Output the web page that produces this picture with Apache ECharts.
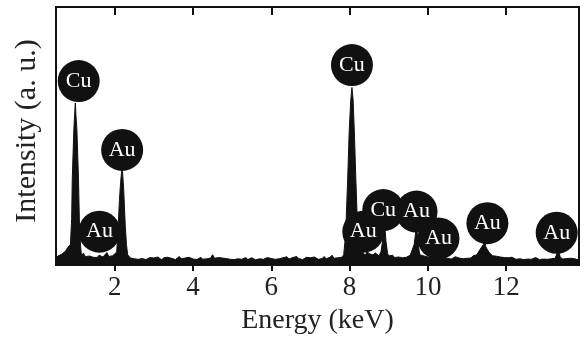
<!DOCTYPE html>
<html>
<head>
<meta charset="utf-8">
<script src="https://cdn.jsdelivr.net/npm/echarts@6/dist/echarts.min.js"></script>
<style>
html,body{margin:0;padding:0;background:#fff;}
#chart{width:584px;height:341px;}
</style>
</head>
<body>
<div id="chart"></div>
<script>
// x tick values / labels (keV)
const tickValues = [2, 4, 6, 8, 10, 12];
const tickLabels = ['2', '4', '6', '8', '10', '12'];

// Background (bremsstrahlung + noise) sampled every 0.05 keV starting at 0.50 keV
const baseStart = 0.5;
const baseStep = 0.05;
const baseCounts = [
  2.5,3.5,3.0,4.2,4.8,5.5,6.8,6.2,7.5,8.0,
  8.0,4.5,5.2,3.8,4.6,3.2,3.9,3.5,4.1,3.0,
  3.6,2.9,3.8,4.4,3.1,3.5,4.8,3.3,2.8,3.6,
  3.2,3.9,4.0,4.0,4.0,4.0,4.2,3.5,2.7,3.1,
  2.4,3.0,2.2,2.8,2.5,3.2,2.1,2.6,2.9,2.3,
  2.7,2.2,3.1,2.4,2.0,2.8,2.5,3.0,2.3,2.6,
  2.9,2.1,2.6,3.3,2.4,2.0,2.7,2.2,3.0,2.5,
  2.3,2.8,2.1,2.6,3.0,2.2,2.9,2.4,2.0,2.7,
  4.0,2.6,2.2,2.9,2.3,2.7,2.0,2.5,3.1,2.2,
  2.6,2.1,2.8,2.4,3.0,2.2,2.6,2.9,2.1,2.5,
  2.8,2.3,2.0,2.7,2.4,3.1,2.2,2.6,2.9,2.3,
  2.5,3.0,2.2,2.7,2.4,2.0,2.8,2.5,3.2,2.3,
  2.6,2.9,2.2,3.3,2.5,2.8,2.1,2.7,3.0,2.4,
  2.8,2.3,3.1,2.6,2.2,2.9,2.5,3.3,2.4,2.7,
  3.0,3.8,2.6,3.2,2.8,3.5,3.0,4.0,4.0,4.0,
  4.0,4.0,4.0,4.0,5.0,4.2,5.5,4.6,3.8,5.2,
  4.4,5.0,3.9,4.7,4.1,3.6,4.0,4.0,4.0,4.0,
  3.5,3.0,3.8,2.9,3.4,3.1,3.6,2.8,3.3,3.0,
  3.4,3.8,4.0,4.0,4.0,4.0,3.9,3.2,3.5,2.8,
  3.1,2.6,2.9,3.3,2.5,2.8,3.0,2.4,2.7,3.1,
  2.6,2.9,2.3,2.8,3.2,2.5,2.7,3.0,2.4,2.9,
  2.6,3.0,2.7,3.5,3.2,4.0,4.0,4.0,4.0,4.0,
  4.0,4.0,4.5,3.6,3.0,3.4,2.8,3.1,2.6,2.9,
  2.5,2.8,2.3,3.0,2.6,2.2,2.9,2.4,2.7,2.1,
  2.6,2.3,2.8,2.2,2.5,2.9,2.4,2.1,2.7,2.3,
  2.5,2.2,2.8,2.4,2.1,2.6,2.5,2.5,2.7,2.3,
  2.0,2.5,2.2,2.6,2.1,2.4,2.2,2.0
];

// Characteristic peaks: [energy keV, intensity]
const peakCuL = [[0.87,8],[0.9,18],[0.915,33],[0.955,52],[0.985,61],[0.995,62.8],[1.01,58],[1.035,52],[1.075,33],[1.1,15],[1.13,7]];
const peakAuM = [[2.05,5],[2.08,12.4],[2.12,25],[2.15,32],[2.18,36.8],[2.2,36],[2.23,29],[2.27,15],[2.3,8],[2.33,4]];
const peakCuKa = [[7.85,4],[7.9,12],[7.93,25],[7.95,33],[7.99,52],[8.03,64],[8.06,68.8],[8.09,64],[8.12,52],[8.16,33],[8.19,20],[8.22,8],[8.26,4.5]];
const peakCuKb = [[8.8,5],[8.84,9],[8.87,14],[8.9,15],[8.93,9],[8.97,4.5]];
const peakAuLa = [[9.6,4.5],[9.65,8],[9.69,13],[9.71,16],[9.74,10],[9.78,5]];
const peakAuLb = [[11.28,4.5],[11.33,6],[11.38,5.5],[11.42,8],[11.45,11],[11.48,7],[11.52,6],[11.57,4.8]];
const peakAuLg = [[13.28,3],[13.31,5],[13.33,7],[13.35,5],[13.38,3]];

// Element labels: [energy, intensity, text]
const labelPos = [
  [1.08, 71.3, 'Cu'],
  [2.19, 44.6, 'Au'],
  [1.61, 12.9, 'Au'],
  [8.06, 77.5, 'Cu'],
  [8.86, 21.3, 'Cu'],
  [8.35, 12.9, 'Au'],
  [9.71, 20.7, 'Au'],
  [10.27, 10.3, 'Au'],
  [11.52, 16.2, 'Au'],
  [13.29, 12.5, 'Au']
];

// merge background and peaks
const peaks = [peakCuL, peakAuM, peakCuKa, peakCuKb, peakAuLa, peakAuLb, peakAuLg];
const spectrum = [];
baseCounts.forEach((v, i) => {
  const e = +(baseStart + i * baseStep).toFixed(3);
  const inside = peaks.some(p => e >= p[0][0] && e <= p[p.length - 1][0]);
  if (!inside) spectrum.push([e, v]);
});
peaks.forEach(p => p.forEach(pt => spectrum.push(pt)));
spectrum.sort((a, b) => a[0] - b[0]);

const FONT = '"Liberation Serif", "Times New Roman", serif';
const chart = echarts.init(document.getElementById('chart'), null, {renderer: 'canvas'});
chart.setOption({
  animation: false,
  backgroundColor: '#fff',
  grid: {left: 56, right: 5, top: 7, bottom: 76, show: true, borderColor: '#111', borderWidth: 2, backgroundColor: 'transparent'},
  xAxis: [{
    type: 'value', min: 0.5, max: 13.86, position: 'bottom',
    axisLine: {show: false},
    splitLine: {show: false},
    axisTick: {show: true, inside: false, length: 6, customValues: tickValues, lineStyle: {color: '#111', width: 2}},
    axisLabel: {customValues: tickValues, formatter: v => tickLabels[tickValues.indexOf(v)], fontFamily: FONT, fontSize: 27, color: '#222', margin: 9},
    name: 'Energy (keV)', nameLocation: 'middle', nameGap: 42,
    nameTextStyle: {fontFamily: FONT, fontSize: 28, color: '#222'}
  }, {
    type: 'value', min: 0.5, max: 13.86, position: 'top',
    axisLine: {show: false}, splitLine: {show: false},
    axisTick: {show: true, inside: true, length: 8, customValues: tickValues, lineStyle: {color: '#111', width: 2}},
    axisLabel: {show: false}
  }],
  yAxis: {
    type: 'value', min: 0, max: 100,
    axisLine: {show: false}, axisTick: {show: false}, axisLabel: {show: false}, splitLine: {show: false},
    name: 'Intensity (a. u.)', nameLocation: 'middle', nameGap: 14,
    nameTextStyle: {fontFamily: FONT, fontSize: 30, color: '#222', padding: [0, 0, 0, 10]}
  },
  series: [{
    type: 'line', data: spectrum, showSymbol: false, smooth: false,
    lineStyle: {color: '#111', width: 1},
    areaStyle: {color: '#111', opacity: 1},
    z: 2
  }, {
    type: 'scatter',
    data: labelPos.map(d => ({value: [d[0], d[1]], name: d[2]})),
    symbol: 'circle', symbolSize: 42,
    itemStyle: {color: '#111', opacity: 1},
    label: {show: true, position: 'inside', formatter: p => p.name, color: '#fff', fontFamily: FONT, fontSize: 22},
    z: 5
  }]
});
</script>
</body>
</html>
